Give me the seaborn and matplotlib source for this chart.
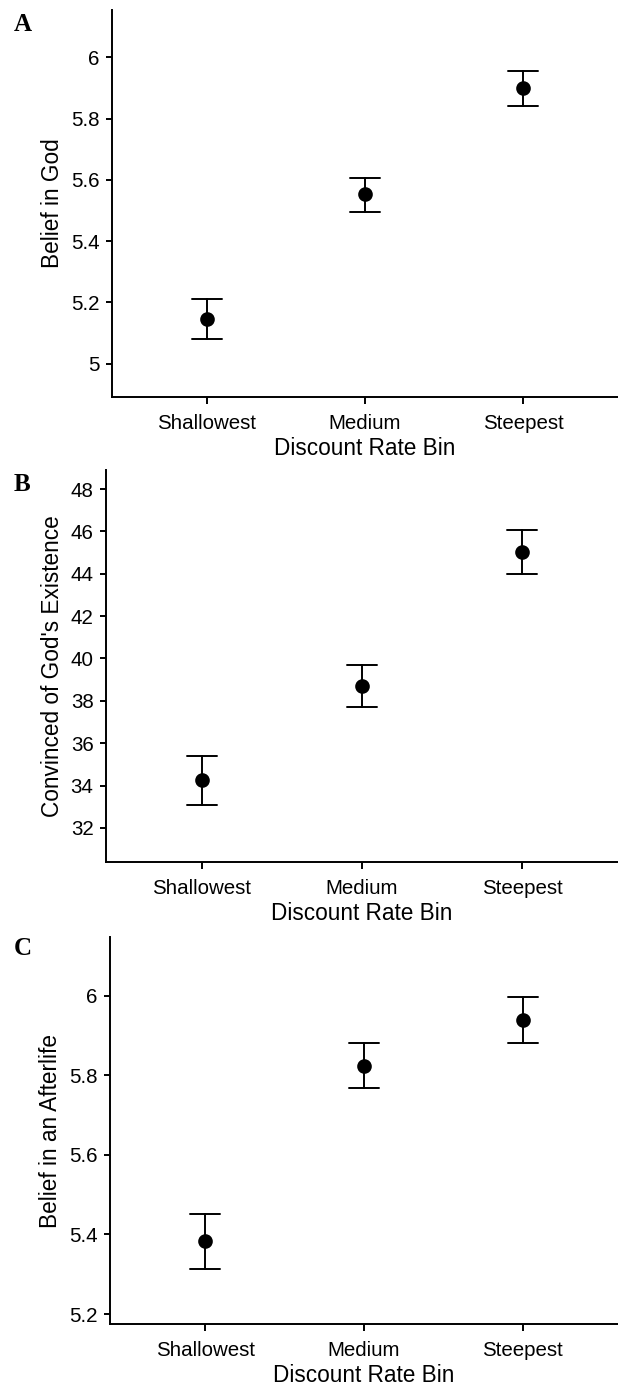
import numpy as np
import pandas as pd
import seaborn as sns
import matplotlib.pyplot as plt
from matplotlib.ticker import FuncFormatter

bins = ['Shallowest', 'Medium', 'Steepest']

# A: belief in god (mean, lower, upper)
god_mean = [5.147, 5.553, 5.901]
god_lo = [5.080, 5.496, 5.841]
god_hi = [5.212, 5.607, 5.956]

# B: convinced of god's existence
conv_mean = [34.25, 38.71, 45.04]
conv_lo = [33.10, 37.72, 43.97]
conv_hi = [35.39, 39.69, 46.06]

# C: belief in an afterlife
after_mean = [5.384, 5.824, 5.939]
after_lo = [5.314, 5.767, 5.880]
after_hi = [5.451, 5.880, 5.996]


def long_table(mean, lo, hi):
    # three rows per bin -> median gives the mean, min/max give the bar ends
    rows = []
    for b, m, l, h in zip(bins, mean, lo, hi):
        rows += [(b, l), (b, m), (b, h)]
    return pd.DataFrame(rows, columns=['bin', 'value'])


sns.set_theme(style='ticks')
plt.rcParams['font.family'] = ['Liberation Sans', 'DejaVu Sans']
plt.rcParams['axes.linewidth'] = 1.4
plt.rcParams['axes.edgecolor'] = 'black'

fig = plt.figure(figsize=(6.18, 13.91), dpi=100)

panels = [
    # letter, data, ylabel, ylim, yticks, rect, letter baseline
    ('A', long_table(god_mean, god_lo, god_hi), 'Belief in God',
     (4.891, 6.155), np.arange(5.0, 6.01, 0.2), [112/618, 1-397/1391, 506/618, 387/1391], 31),
    ('B', long_table(conv_mean, conv_lo, conv_hi), "Convinced of God's Existence",
     (30.39, 48.9), np.arange(32, 48.1, 2), [106/618, 1-862/1391, 512/618, 392/1391], 491),
    ('C', long_table(after_mean, after_lo, after_hi), 'Belief in an Afterlife',
     (5.175, 6.147), np.arange(5.2, 6.01, 0.2), [110/618, 1-1324/1391, 508/618, 387/1391], 955),
]

for letter, df, ylab, ylim, yticks, rect, ly in panels:
    ax = fig.add_axes(rect)
    sns.pointplot(data=df, x='bin', y='value', order=bins,
                  estimator='median', errorbar=lambda v: (v.min(), v.max()),
                  color='black', linestyle='none', markers='o', markersize=8.5,
                  capsize=0.19, err_kws={'linewidth': 1.4}, ax=ax)
    ax.set_xlim(-0.6, 2.6)
    ax.set_ylim(*ylim)
    ax.set_yticks(yticks)
    ax.yaxis.set_major_formatter(FuncFormatter(lambda v, p: f'{v:g}'))
    ax.set_xlabel('Discount Rate Bin', fontsize=16.3, color='black', labelpad=3)
    ax.set_ylabel(ylab, fontsize=16.3, color='black', labelpad=5)
    ax.tick_params(axis='x', length=5, width=1.4, pad=7, labelsize=14.8, colors='black')
    ax.tick_params(axis='y', length=4.5, width=1.4, pad=4.5, labelsize=14.8, colors='black')
    sns.despine(ax=ax)
    fig.text(14/618, 1-ly/1391, letter, fontsize=18, fontweight='bold', color='black',
             family=['Liberation Serif', 'DejaVu Serif'], ha='left', va='baseline')

fig.savefig('out.png', dpi=100)
